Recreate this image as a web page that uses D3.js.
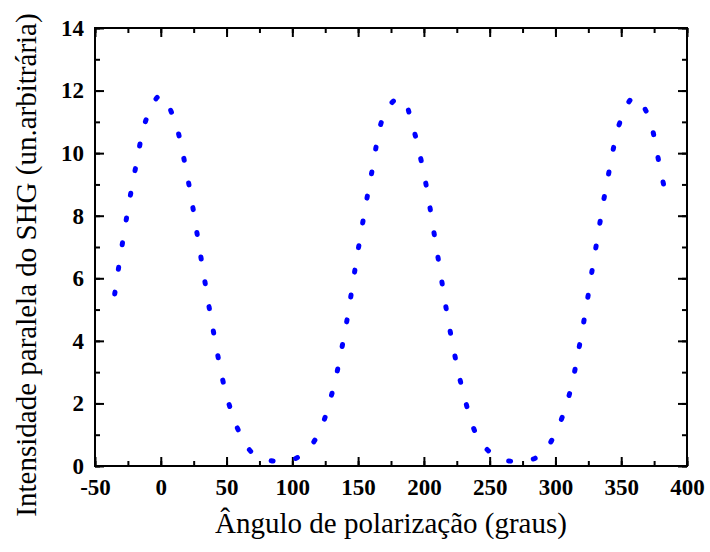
<!DOCTYPE html>
<html>
<head>
<meta charset="utf-8">
<script src="https://cdn.jsdelivr.net/npm/d3@7"></script>
<style>
  body { margin: 0; background: #fff; }
  svg { display: block; }
  text { font-family: "Liberation Serif", Tinos, "Times New Roman", Times, "DejaVu Serif", serif; }
</style>
</head>
<body>
<svg id="chart"></svg>
<script>
// readings from the figure
const angles = [-35, -30, -20, -10, 0, 10, 20, 30, 40, 50, 60, 70, 80, 90, 100, 110, 120, 130, 140, 150,
  160, 170, 180, 185, 190, 200, 210, 220, 230, 240, 250, 260, 270, 280, 290, 300, 310, 320, 330, 340,
  350, 360, 370, 380, 384];
const intensity = [5.5, 6.9, 9.35, 11.2, 11.85, 11.1, 9.3, 6.8, 4.3, 2.25, 1.05, 0.4, 0.2, 0.15, 0.2, 0.45, 1.04, 2.3, 4.3, 6.9,
  9.3, 11.25, 11.75, 11.68, 11.1, 9.35, 6.85, 4.3, 2.33, 1.0, 0.45, 0.2, 0.15, 0.18, 0.4, 1.05, 2.2, 4.25, 6.8, 9.25,
  11.1, 11.8, 11.25, 9.42, 8.65];
const xTicks = [-50, 0, 50, 100, 150, 200, 250, 300, 350, 400];
const yTicks = [0, 2, 4, 6, 8, 10, 12, 14];

const W = 710, H = 552;
const margin = { top: 28, right: 23, bottom: 86, left: 95 };
const innerW = W - margin.left - margin.right;
const innerH = H - margin.top - margin.bottom;
const serif = '"Liberation Serif", Tinos, "Times New Roman", Times, "DejaVu Serif", serif';

const svg = d3.select('#chart').attr('width', W).attr('height', H);

const chart = svg.append('g')
  .attr('transform', `translate(${margin.left},${margin.top})`);

const x = d3.scaleLinear().domain([-50, 400]).range([0, innerW]);
const y = d3.scaleLinear().domain([0, 14]).range([innerH, 0]);

const fmt = d => String(d);
const minorX = d3.range(-50, 401, 25);
const minorY = d3.range(0, 15, 1);

// minor ticks
chart.append('g').attr('class', 'ax')
  .attr('transform', `translate(0,${innerH})`)
  .call(d3.axisBottom(x).tickValues(minorX).tickSize(-5).tickFormat(''));
chart.append('g').attr('class', 'ax')
  .call(d3.axisTop(x).tickValues(minorX).tickSize(-5).tickFormat(''));
chart.append('g').attr('class', 'ax')
  .call(d3.axisLeft(y).tickValues(minorY).tickSize(-5).tickFormat(''));
chart.append('g').attr('class', 'ax')
  .attr('transform', `translate(${innerW},0)`)
  .call(d3.axisRight(y).tickValues(minorY).tickSize(-5).tickFormat(''));

// major ticks + labels
chart.append('g').attr('class', 'ax lab')
  .attr('transform', `translate(0,${innerH})`)
  .call(d3.axisBottom(x).tickValues(xTicks).tickSize(-9).tickPadding(13).tickFormat(fmt));
chart.append('g').attr('class', 'ax')
  .call(d3.axisTop(x).tickValues(xTicks).tickSize(-9).tickFormat(''));
chart.append('g').attr('class', 'ax lab')
  .call(d3.axisLeft(y).tickValues(yTicks).tickSize(-9).tickPadding(11).tickFormat(fmt));
chart.append('g').attr('class', 'ax')
  .attr('transform', `translate(${innerW},0)`)
  .call(d3.axisRight(y).tickValues(yTicks).tickSize(-9).tickFormat(''));

chart.selectAll('.ax path').remove();
chart.selectAll('.ax line').attr('stroke', '#000').attr('stroke-width', 2);
chart.selectAll('.ax').attr('font-family', null);
chart.selectAll('.lab text')
  .attr('fill', '#000')
  .style('font-family', serif)
  .style('font-weight', 'bold')
  .style('font-size', '23px');

// frame
chart.append('rect')
  .attr('x', 0).attr('y', 0)
  .attr('width', innerW).attr('height', innerH)
  .attr('fill', 'none').attr('stroke', '#000').attr('stroke-width', 2);

// dotted curve
const line = d3.line()
  .x((d, i) => x(angles[i]))
  .y(d => y(d))
  .curve(d3.curveCatmullRom);

chart.append('path')
  .datum(intensity)
  .attr('d', line)
  .attr('fill', 'none')
  .attr('stroke', '#0000ff')
  .attr('stroke-width', 5)
  .attr('stroke-linecap', 'round')
  .attr('stroke-dasharray', '2 23');

// axis labels
svg.append('text')
  .attr('x', margin.left + innerW / 2)
  .attr('y', 533)
  .attr('text-anchor', 'middle')
  .style('font-family', serif)
  .style('font-size', '29px')
  .text('Ângulo de polarização (graus)');

svg.append('text')
  .attr('transform', 'rotate(-90)')
  .attr('x', -265)
  .attr('y', 36)
  .attr('text-anchor', 'middle')
  .style('font-family', serif)
  .style('font-size', '29px')
  .text('Intensidade paralela do SHG (un.arbitrária)');
</script>
</body>
</html>
